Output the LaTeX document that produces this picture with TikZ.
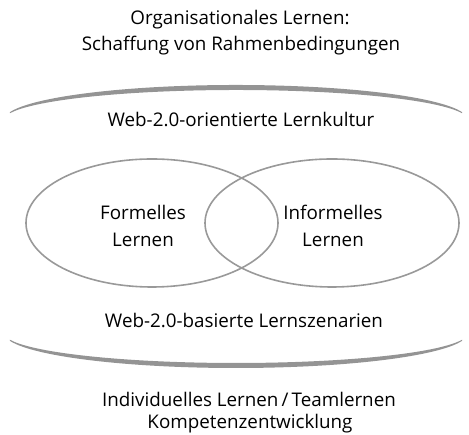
\documentclass[tikz,border=0pt]{standalone}
\usepackage{fontspec}
\setmainfont{Open Sans}
\usetikzlibrary{shapes.geometric}
\begin{document}
\begin{tikzpicture}[x=1pt,y=1pt,
  lbl/.style={inner sep=0pt, font=\fontsize{18.8}{23}\selectfont, text=black},
  circ/.style={draw=black!40, line width=1.6pt},
  band/.style={fill=black!42, draw=none}]
\useasboundingbox (0,0) rectangle (469,435);
% text
\node[lbl] (t1) at (240,415) {Organisationales Lernen:};
\node[lbl] (t2) at (241,389) {Schaffung von Rahmenbedingungen};
\node[lbl] (k) at (241,315) {Web-2.0-orientierte Lernkultur};
\node[lbl] (s) at (244,115) {Web-2.0-basierte Lernszenarien};
\node[lbl] (b1) at (249,36) {Individuelles Lernen\,/\,Teamlernen};
\node[lbl] (b2) at (250,11) {Kompetenzentwicklung};
% bands
\fill[band] (236,315) ++(167:232 and 35) arc[start angle=167,end angle=13,x radius=232,y radius=35]
  -- ([shift={(13:232 and 30)}]236,315) arc[start angle=13,end angle=167,x radius=232,y radius=30] -- cycle;
\fill[band] (236,102) ++(-167:232 and 35) arc[start angle=-167,end angle=-13,x radius=232,y radius=35]
  -- ([shift={(-13:232 and 30)}]236,102) arc[start angle=-13,end angle=-167,x radius=232,y radius=30] -- cycle;
% ellipses
\node[circ, ellipse, minimum width=252pt, minimum height=128pt, inner sep=0pt] (fl) at (152,212) {};
\node[circ, ellipse, minimum width=254pt, minimum height=128pt, inner sep=0pt] (il) at (332,212) {};
\node[lbl, align=center] (ft) at (143,209) {Formelles\\[4pt]Lernen};
\node[lbl, align=center] (it) at (333,209) {Informelles\\[4pt]Lernen};
\end{tikzpicture}
\end{document}
